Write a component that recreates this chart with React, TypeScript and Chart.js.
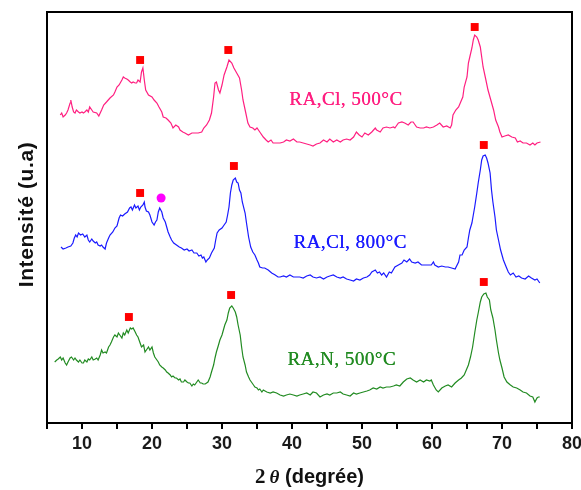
import React, { useEffect, useRef } from "react";
import { Chart, registerables } from "chart.js";

Chart.register(...registerables);

// [2θ (degrees), intensity (a.u.)]
const pinkSeries: [number, number][] = [
  [6.9, 308], [7.1, 310], [7.3, 306], [7.6, 308], [7.8, 310], [8.0, 313], [8.3, 320], [8.4, 323], [8.6, 316], [8.8, 311],
  [9.0, 310], [9.2, 313], [9.5, 311], [9.7, 310], [10.0, 311], [10.2, 310], [10.4, 311], [10.7, 313], [10.9, 311], [11.1, 316],
  [11.4, 313], [11.6, 311], [12.1, 310], [12.4, 307], [12.8, 313], [13.1, 318], [13.5, 321], [14.0, 325], [14.5, 328], [14.7, 331],
  [15.0, 336], [15.3, 338], [15.7, 343], [15.9, 346], [16.1, 345], [16.4, 344], [16.6, 343], [16.9, 341], [17.1, 340], [17.3, 341],
  [17.6, 340], [17.8, 340], [18.0, 343], [18.3, 341], [18.5, 351], [18.7, 355], [18.9, 343], [19.1, 333], [19.5, 328], [20.0, 326],
  [20.3, 323], [20.7, 320], [21.0, 316], [21.4, 311], [21.6, 306], [22.0, 305], [22.3, 303], [22.7, 300], [23.0, 295], [23.4, 298],
  [23.8, 296], [24.0, 293], [24.4, 291], [24.7, 290], [25.2, 288], [25.7, 290], [26.1, 290], [26.6, 290], [27.1, 291], [27.4, 295],
  [27.8, 298], [28.2, 303], [28.5, 310], [28.8, 326], [29.0, 340], [29.2, 341], [29.5, 333], [29.7, 330], [30.0, 338], [30.3, 348],
  [30.7, 356], [31.0, 363], [31.4, 360], [31.7, 355], [32.1, 350], [32.5, 345], [32.8, 333], [33.0, 323], [33.4, 310], [33.7, 300],
  [34.0, 296], [34.4, 295], [34.7, 293], [35.0, 295], [35.4, 291], [35.9, 286], [36.3, 283], [36.6, 281], [37.0, 283], [37.3, 280],
  [37.8, 280], [38.3, 280], [38.8, 281], [39.2, 283], [39.7, 282], [40.2, 284], [40.7, 281], [41.1, 281], [41.6, 280], [42.1, 279],
  [42.6, 278], [43.0, 277], [43.5, 279], [44.0, 280], [44.5, 283], [45.0, 281], [45.4, 284], [45.9, 281], [46.4, 283], [46.9, 281],
  [47.3, 283], [47.8, 284], [48.3, 283], [48.8, 286], [49.2, 291], [49.6, 288], [50.0, 286], [50.4, 290], [50.9, 288], [51.4, 291],
  [51.9, 295], [52.1, 293], [52.6, 291], [53.0, 295], [53.5, 296], [54.0, 295], [54.5, 296], [54.7, 295], [55.2, 300], [55.7, 301],
  [56.1, 300], [56.6, 298], [57.0, 301], [57.3, 301], [57.8, 296], [58.3, 295], [58.8, 295], [59.2, 296], [59.7, 295], [60.2, 296],
  [60.7, 298], [61.1, 300], [61.6, 296], [62.1, 297], [62.6, 295], [62.8, 298], [63.0, 308], [63.4, 313], [63.8, 316], [64.1, 321],
  [64.4, 326], [64.6, 336], [65.0, 346], [65.2, 360], [65.4, 366], [65.7, 375], [65.9, 383], [66.1, 388], [66.4, 386], [66.6, 383],
  [66.9, 376], [67.1, 366], [67.3, 356], [67.7, 343], [68.0, 333], [68.4, 323], [68.8, 313], [69.1, 303], [69.5, 296], [69.7, 291],
  [70.0, 286], [70.4, 287], [70.9, 288], [71.4, 286], [71.9, 285], [72.2, 281], [72.6, 282], [73.0, 280], [73.5, 280], [74.0, 278],
  [74.4, 280], [74.7, 278], [75.0, 280], [75.5, 281],
];

const blueSeries: [number, number][] = [
  [7.0, 176], [7.3, 174], [7.7, 175], [8.0, 176], [8.4, 177], [8.7, 180], [8.9, 185], [9.1, 188], [9.3, 186], [9.5, 190],
  [9.8, 188], [10.1, 189], [10.4, 186], [10.7, 188], [10.9, 183], [11.1, 181], [11.4, 184], [11.6, 182], [11.9, 180], [12.1, 181],
  [12.3, 178], [12.6, 177], [12.8, 178], [13.0, 176], [13.3, 174], [13.5, 180], [13.8, 185], [14.0, 188], [14.4, 191], [14.7, 195],
  [15.0, 197], [15.3, 205], [15.5, 208], [15.8, 207], [16.1, 209], [16.5, 211], [16.8, 215], [17.0, 216], [17.2, 213], [17.5, 218],
  [17.7, 215], [18.0, 217], [18.2, 213], [18.4, 216], [18.7, 218], [18.9, 221], [19.0, 216], [19.2, 212], [19.5, 211], [19.7, 208],
  [20.0, 201], [20.3, 198], [20.5, 201], [20.7, 203], [20.9, 211], [21.1, 215], [21.4, 211], [21.6, 205], [21.9, 201], [22.1, 196],
  [22.3, 191], [22.6, 186], [22.8, 183], [23.1, 180], [23.5, 178], [23.9, 176], [24.2, 175], [24.6, 173], [25.0, 174], [25.3, 172],
  [25.7, 173], [26.0, 170], [26.4, 170], [26.7, 167], [27.0, 168], [27.2, 165], [27.4, 166], [27.7, 161], [27.9, 163], [28.2, 165],
  [28.5, 170], [28.9, 175], [29.1, 183], [29.3, 190], [29.6, 193], [30.0, 195], [30.3, 198], [30.6, 201], [30.8, 208], [31.0, 216],
  [31.2, 230], [31.4, 238], [31.6, 243], [31.9, 245], [32.1, 241], [32.3, 240], [32.5, 233], [32.7, 230], [32.9, 221], [33.3, 210],
  [33.5, 200], [33.8, 186], [34.1, 176], [34.4, 171], [34.7, 168], [35.0, 163], [35.2, 160], [35.4, 156], [35.8, 155], [36.1, 155],
  [36.6, 153], [37.1, 150], [37.6, 148], [38.0, 146], [38.3, 146], [38.8, 147], [39.2, 146], [39.7, 148], [40.2, 146], [40.7, 146],
  [41.1, 146], [41.6, 145], [42.1, 147], [42.6, 148], [43.0, 146], [43.5, 145], [44.0, 146], [44.5, 144], [45.0, 146], [45.4, 147],
  [45.9, 148], [46.4, 146], [46.9, 145], [47.3, 146], [47.8, 144], [48.3, 143], [48.8, 142], [49.2, 144], [49.7, 143], [50.2, 145],
  [50.7, 146], [51.1, 148], [51.4, 151], [51.9, 153], [52.2, 150], [52.5, 151], [52.8, 148], [53.1, 150], [53.5, 146], [53.9, 151],
  [54.2, 150], [54.7, 156], [55.2, 158], [55.7, 160], [56.0, 163], [56.4, 161], [56.8, 164], [57.1, 161], [57.6, 160], [58.0, 161],
  [58.5, 158], [59.0, 158], [59.5, 158], [59.9, 158], [60.2, 161], [60.4, 158], [60.9, 156], [61.4, 157], [61.9, 156], [62.3, 156],
  [62.8, 155], [63.3, 154], [63.8, 161], [64.0, 168], [64.3, 168], [64.6, 173], [65.0, 176], [65.2, 185], [65.4, 193], [65.7, 200],
  [65.9, 208], [66.1, 216], [66.4, 230], [66.6, 240], [66.9, 253], [67.1, 263], [67.3, 267], [67.6, 268], [67.8, 265], [68.0, 260],
  [68.3, 250], [68.5, 233], [68.7, 221], [69.0, 206], [69.2, 193], [69.5, 183], [69.8, 173], [70.2, 163], [70.6, 156], [70.9, 151],
  [71.2, 148], [71.6, 150], [72.0, 146], [72.4, 147], [72.8, 145], [73.3, 144], [73.8, 147], [74.2, 145], [74.7, 143], [75.0, 144],
  [75.4, 140],
];

const greenSeries: [number, number][] = [
  [6.1, 61], [6.4, 63], [6.6, 64], [6.9, 66], [7.1, 63], [7.3, 65], [7.6, 60], [7.8, 58], [8.0, 61], [8.3, 65],
  [8.5, 66], [8.8, 63], [9.0, 65], [9.2, 63], [9.5, 61], [9.7, 63], [10.0, 60], [10.2, 60], [10.4, 63], [10.7, 61],
  [10.9, 64], [11.1, 63], [11.4, 66], [11.6, 63], [11.9, 64], [12.1, 65], [12.3, 63], [12.6, 68], [12.8, 73], [13.0, 70],
  [13.3, 71], [13.5, 70], [13.8, 76], [14.0, 78], [14.2, 81], [14.5, 86], [14.7, 88], [15.0, 86], [15.2, 90], [15.4, 88],
  [15.7, 85], [15.9, 90], [16.1, 88], [16.4, 93], [16.6, 90], [16.9, 95], [17.1, 94], [17.3, 95], [17.6, 91], [17.8, 88],
  [18.0, 86], [18.3, 80], [18.5, 76], [18.8, 78], [19.0, 71], [19.2, 73], [19.5, 76], [19.7, 73], [20.0, 76], [20.2, 70],
  [20.4, 66], [20.7, 63], [20.9, 61], [21.1, 58], [21.4, 56], [21.6, 55], [21.9, 53], [22.1, 51], [22.3, 50], [22.6, 48],
  [22.8, 46], [23.0, 47], [23.3, 45], [23.5, 45], [23.8, 43], [24.0, 44], [24.2, 41], [24.5, 41], [24.7, 43], [25.0, 41],
  [25.2, 40], [25.4, 40], [25.7, 37], [25.9, 39], [26.1, 38], [26.4, 41], [26.6, 43], [26.9, 40], [27.1, 40], [27.3, 39],
  [27.6, 39], [27.8, 40], [28.0, 41], [28.3, 46], [28.5, 51], [28.8, 58], [29.0, 65], [29.2, 71], [29.5, 78], [29.7, 83],
  [30.0, 88], [30.2, 93], [30.4, 98], [30.7, 103], [30.9, 110], [31.1, 115], [31.4, 117], [31.6, 115], [31.9, 111], [32.1, 106],
  [32.3, 98], [32.6, 88], [32.8, 76], [33.0, 66], [33.3, 58], [33.5, 51], [33.8, 46], [34.0, 43], [34.2, 41], [34.5, 38],
  [34.7, 36], [35.0, 35], [35.2, 33], [35.4, 34], [35.7, 31], [35.9, 33], [36.4, 31], [36.9, 30], [37.3, 31], [37.8, 30],
  [38.3, 28], [38.8, 27], [39.2, 28], [39.7, 29], [40.2, 28], [40.7, 27], [41.1, 28], [41.6, 29], [42.1, 30], [42.6, 28],
  [43.0, 31], [43.5, 30], [44.0, 26], [44.5, 28], [45.0, 29], [45.4, 28], [45.9, 30], [46.4, 30], [46.9, 31], [47.3, 29],
  [47.8, 28], [48.3, 27], [48.8, 30], [49.2, 29], [49.7, 30], [50.2, 31], [50.7, 32], [51.1, 33], [51.6, 35], [52.1, 34],
  [52.6, 36], [53.0, 35], [53.5, 36], [54.0, 36], [54.5, 37], [54.9, 38], [55.4, 37], [55.9, 41], [56.4, 44], [56.9, 45],
  [57.3, 43], [57.8, 41], [58.3, 43], [58.8, 41], [59.2, 43], [59.7, 42], [59.9, 43], [60.2, 38], [60.6, 33], [60.9, 31],
  [61.4, 35], [61.9, 37], [62.3, 38], [62.8, 36], [63.3, 40], [63.8, 43], [64.2, 45], [64.6, 48], [64.9, 53], [65.2, 58],
  [65.5, 66], [65.8, 76], [66.1, 90], [66.4, 103], [66.6, 110], [66.9, 121], [67.1, 126], [67.4, 129], [67.7, 130], [67.9, 126],
  [68.2, 123], [68.4, 113], [68.7, 105], [69.0, 93], [69.2, 83], [69.5, 70], [69.7, 63], [70.0, 55], [70.3, 46], [70.7, 41],
  [71.2, 38], [71.6, 36], [72.1, 35], [72.6, 33], [73.0, 31], [73.5, 30], [74.0, 27], [74.4, 26], [74.7, 21], [75.0, 25],
  [75.2, 26], [75.4, 26],
];

// Phase markers [2θ, height]
const squareMarks: [number, number][] = [
  [18.3, 363], [30.9, 373], [66.1, 396],
  [18.3, 230], [31.7, 257], [67.4, 278],
  [16.7, 106], [31.3, 128], [67.4, 141],
];
const circleMarks: [number, number][] = [[21.3, 225]];

// Curve labels
const labelTexts = ["RA,Cl, 500°C", "RA,Cl, 800°C", "RA,N, 500°C"];
const labelX = [47.7, 48.3, 47.1];
const labelY = [323, 180, 63];
const colors = ["#ff1f80", "#1a1aff", "#228b22"];

const xTicks = [10, 20, 30, 40, 50, 60, 70, 80];

const toPts = (arr: [number, number][]) => arr.map(([x, y]) => ({ x, y }));

export default function App() {
  const ref = useRef<HTMLCanvasElement | null>(null);

  useEffect(() => {
    document.body.style.margin = "0";
    const canvas = ref.current;
    if (!canvas) return;

    const decor = {
      id: "decor",
      afterDraw(chart: any) {
        const { ctx, chartArea, scales } = chart;
        const xs = scales.x;
        const ys = scales.y;
        ctx.save();
        ctx.strokeStyle = "#000";
        ctx.lineWidth = 2;
        ctx.strokeRect(chartArea.left, chartArea.top, chartArea.right - chartArea.left, chartArea.bottom - chartArea.top);
        // curve labels
        ctx.font = '19px "Liberation Serif", "DejaVu Serif", serif';
        (ctx as any).letterSpacing = "0.5px";
        ctx.textAlign = "center";
        ctx.textBaseline = "middle";
        labelTexts.forEach((t, i) => {
          ctx.fillStyle = colors[i];
          ctx.fillText(t, xs.getPixelForValue(labelX[i]), ys.getPixelForValue(labelY[i]));
          ctx.fillText(t, xs.getPixelForValue(labelX[i]) + 0.3, ys.getPixelForValue(labelY[i]));
        });
        // y title
        ctx.save();
        ctx.translate(27, (chartArea.top + chartArea.bottom) / 2 - 3);
        ctx.rotate(-Math.PI / 2);
        ctx.fillStyle = "#111";
        ctx.font = 'bold 21px "Liberation Sans", Arial, sans-serif';
        (ctx as any).letterSpacing = "0.6px";
        ctx.textAlign = "center";
        ctx.textBaseline = "middle";
        ctx.fillText("Intensité (u.a)", 0, 0);
        ctx.restore();
        // x title: "2θ (degrée)"
        (ctx as any).letterSpacing = "0px";
        const parts = [
          { t: "2", f: 'bold 21px "Liberation Serif", serif' },
          { t: "\u2009", f: 'bold 20px "Liberation Sans", sans-serif' },
          { t: "θ", f: 'italic bold 19px "Liberation Serif", serif' },
          { t: " (degrée)", f: 'bold 20px "Liberation Sans", Arial, sans-serif' },
        ];
        let total = 0;
        parts.forEach((p) => {
          ctx.font = p.f;
          total += ctx.measureText(p.t).width;
        });
        let px = (chartArea.left + chartArea.right) / 2 - total / 2;
        ctx.textAlign = "left";
        ctx.textBaseline = "alphabetic";
        ctx.fillStyle = "#111";
        parts.forEach((p) => {
          ctx.font = p.f;
          ctx.fillText(p.t, px, 483);
          px += ctx.measureText(p.t).width;
        });
        ctx.restore();
      },
    };

    const line = (arr: [number, number][], c: string) => ({
      data: toPts(arr),
      borderColor: c,
      borderWidth: 1.2,
      pointRadius: 0,
      tension: 0,
    });

    const chart = new Chart(canvas, {
      type: "line",
      data: {
        datasets: [
          line(pinkSeries, colors[0]),
          line(blueSeries, colors[1]),
          line(greenSeries, colors[2]),
          {
            data: toPts(squareMarks),
            showLine: false,
            pointStyle: "rect",
            pointRadius: 5.6,
            pointBackgroundColor: "#ff0000",
            pointBorderWidth: 0,
            borderColor: "#ff0000",
          },
          {
            data: toPts(circleMarks),
            showLine: false,
            pointStyle: "circle",
            pointRadius: 4.5,
            pointBackgroundColor: "#ff00ff",
            pointBorderWidth: 0,
            borderColor: "#ff00ff",
          },
        ],
      } as any,
      options: {
        animation: false,
        responsive: false,
        maintainAspectRatio: false,
        layout: { padding: { top: 12, right: 9, left: 0, bottom: 0 } },
        plugins: { legend: { display: false }, tooltip: { enabled: false } },
        scales: {
          x: {
            type: "linear",
            min: 5,
            max: 80,
            afterFit: (s: any) => {
              s.height = 67;
              s.paddingLeft = 0;
              s.paddingRight = 0;
            },
            afterBuildTicks: (s: any) => {
              const t = [];
              for (let v = 5; v <= 80; v += 5) t.push({ value: v });
              s.ticks = t;
            },
            border: { display: false },
            grid: { display: true, drawOnChartArea: false, drawTicks: true, tickLength: 6, color: "#000", lineWidth: 2 },
            ticks: {
              autoSkip: false,
              maxRotation: 0,
              padding: 4,
              color: "#1a1a1a",
              font: { family: '"Liberation Sans", Arial, sans-serif', size: 18, weight: "bold" },
              callback: (v: any) => (xTicks.includes(Number(v)) ? String(v) : ""),
            },
          },
          y: {
            type: "linear",
            min: 0,
            max: 411,
            afterFit: (s: any) => {
              s.width = 47;
            },
            border: { display: false },
            grid: { display: false, drawTicks: false },
            ticks: { display: false },
          },
        },
      } as any,
      plugins: [decor],
    });

    return () => chart.destroy();
  }, []);

  return <canvas ref={ref} width={581} height={490} style={{ display: "block" }} />;
}
